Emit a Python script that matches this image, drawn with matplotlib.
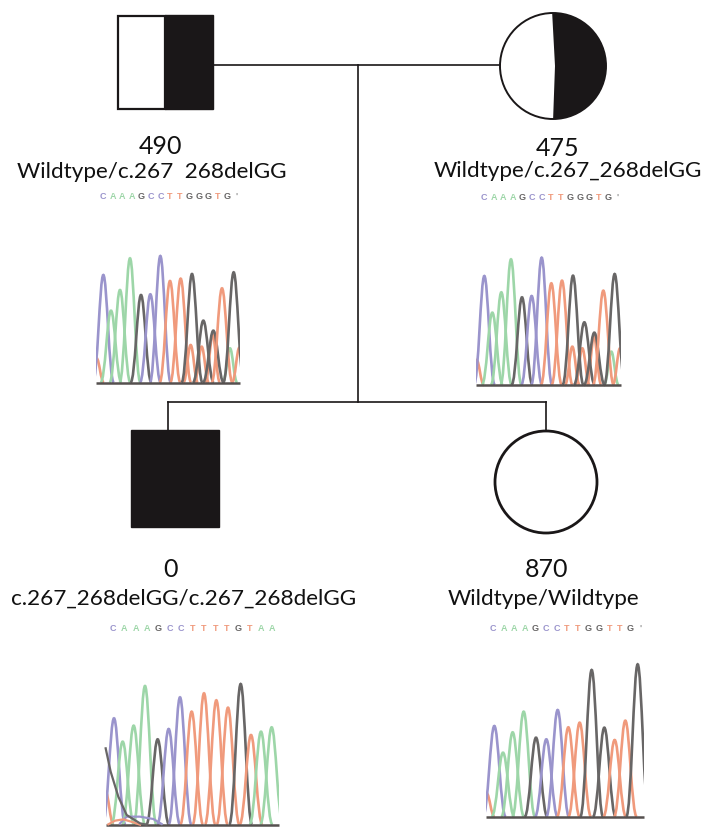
# pedigree with chromatograms, drawn in picture pixels
import matplotlib
matplotlib.use("Agg")
import matplotlib.pyplot as plt
from matplotlib.patches import Rectangle, Circle, PathPatch, Polygon
from matplotlib.path import Path

p1_call = "CAAAGCCTTGGGTG"
p1_x = [70, 93, 120, 150, 183, 211, 241, 270, 302, 336, 370, 400, 426, 461]
p1_top = [285, 392, 330, 235, 345, 343, 228, 303, 296, 282, 422, 452, 325, 277]
p1_call2 = "TTTTAT"
p1_x2 = [50, 332, 365, 398, 450, 478]
p1_top2 = [535, 495, 500, 465, 505, 503]

p2_call = "CAAAGCCTTGGGTG"
p2_x = [73, 97, 124, 153, 186, 215, 245, 274, 306, 339, 373, 403, 430, 464]
p2_top = [288, 398, 337, 238, 352, 348, 233, 310, 302, 287, 427, 458, 332, 282]
p2_call2 = "TTTTAT"
p2_x2 = [50, 337, 367, 402, 454, 480]
p2_top2 = [540, 500, 505, 470, 515, 505]

p3_call = "CAAAGCCTTTTGTAA"
p3_x = [72, 98, 131, 165, 203, 236, 270, 305, 342, 379, 414, 452, 483, 513, 545]
p3_top = [310, 380, 332, 213, 373, 342, 247, 290, 235, 256, 278, 207, 360, 350, 337]
p3_call2 = "T"
p3_x2 = [47]
p3_top2 = [530]
p3_noise_gray = [(47, 400), (62, 470), (85, 545), (110, 600), (150, 625), (170, 629)]
p3_noise_blue = [(90, 625), (110, 605), (150, 605), (190, 612), (215, 627)]
p3_noise_orange = [(55, 628), (75, 617), (100, 613), (130, 622), (150, 629)]

p4_call = "CAAAGCCTTGGTTG"
p4_x = [73, 99, 128, 161, 198, 229, 263, 295, 329, 365, 403, 434, 466, 503]
p4_top = [333, 413, 352, 290, 368, 373, 285, 337, 323, 165, 338, 375, 317, 148]
p4_call2 = "T"
p4_x2 = [50]
p4_top2 = [535]

seq1 = "CAAAGCCTTGGGTG'"
seq2 = "CAAAGCCTTGGGTG'"
seq3 = "CAAAGCCTTTTGTAA"
seq4 = "CAAAGCCTTGGTTG'"

ids = ["490", "475", "0", "870"]
genotypes = ["Wildtype/c.267  268delGG", "Wildtype/c.267_268delGG",
             "c.267_268delGG/c.267_268delGG", "Wildtype/Wildtype"]

kleur = {"C": "#9a94cc", "A": "#9dd6a8", "G": "#686666", "T": "#f09a7c", "'": "#999999"}
ink = "#1a1718"

fig = plt.figure(figsize=(7.14, 8.38), dpi=100)
ax = fig.add_axes([0, 0, 1, 1])
ax.set_xlim(0, 714)
ax.set_ylim(838, 0)
ax.axis("off")


def peak(x, top, base, w, farge, klipp):
    # one trace peak as a bezier hump
    verts = [(x - w, base), (x - 0.55 * w, base), (x - 0.35 * w, top), (x, top),
             (x + 0.35 * w, top), (x + 0.55 * w, base), (x + w, base)]
    codes = [Path.MOVETO] + [Path.CURVE4] * 6
    p = ax.add_patch(PathPatch(Path(verts, codes), fc="none", ec=farge, lw=1.9, zorder=3))
    p.set_clip_path(klipp)


def trace(ox, oy, base, right, call, xs, tops, call2, xs2, tops2, w=10.5):
    # crop coordinates are 3x, ox/oy is the crop corner
    left = ox + 48 / 3
    end = ox + right / 3
    klipp = Rectangle((left, 0), end - left, 838, transform=ax.transData)
    for c, x, t in zip(call2, xs2, tops2):
        peak(ox + x / 3, oy + t / 3, oy + base / 3, w * 0.7, kleur[c], klipp)
    for c, x, t in zip(call, xs, tops):
        peak(ox + x / 3, oy + t / 3, oy + base / 3, w, kleur[c], klipp)
    ax.plot([left, end], [oy + base / 3] * 2, color="#55504f", lw=1.8, zorder=4, solid_capstyle="butt")


def sequence(letters, x0, x1, y):
    step = (x1 - x0) / (len(letters) - 1)
    for i, c in enumerate(letters):
        ax.text(x0 + i * step, y, c, color=kleur[c], fontsize=6.5, family="Liberation Sans",
                fontweight="bold", ha="center", va="center")


# lines between the symbols
ax.plot([213, 499], [65, 65], color=ink, lw=1.2)
ax.plot([358, 358], [65, 402], color=ink, lw=1.2)
ax.plot([168, 546], [402, 402], color=ink, lw=1.2)
ax.plot([168, 168], [402, 430], color=ink, lw=1.2)
ax.plot([546, 546], [402, 431], color=ink, lw=1.2)

# father
ax.add_patch(Rectangle((118, 16), 47, 93, fc="white", ec=ink, lw=1.6))
ax.add_patch(Rectangle((165, 15), 48, 94, fc=ink, ec=ink, lw=1))

# mother, dark half clipped to the circle
ring = Circle((553, 66), 53, fc="white", ec=ink, lw=1.4, zorder=2)
ax.add_patch(ring)
half = Polygon([(552, 10), (610, 10), (610, 122), (553, 122), (555, 66)], fc=ink, ec="none", zorder=2)
ax.add_patch(half)
half.set_clip_path(ring)

# children
ax.add_patch(Rectangle((131, 430), 88, 97, fc=ink, ec=ink, lw=1))
ax.add_patch(Circle((546, 482), 51, fc="white", ec=ink, lw=2))

# labels
lx = [160, 558, 171, 546]
ly = [146, 148, 569, 569]
gx = [152, 568, 184, 543]
gy = [172, 171, 599, 599]
for i in range(4):
    ax.text(lx[i], ly[i], ids[i], fontsize=18, family="Lato", color="#111111", ha="center", va="center")
    ax.text(gx[i], gy[i], genotypes[i], fontsize=16.2, family="Lato", color="#111111", ha="center", va="center")

sequence(seq1, 103, 237, 196)
sequence(seq2, 484, 618, 197)
sequence(seq3, 113, 272, 628)
sequence(seq4, 493, 641, 628)

trace(80, 180, 608, 480, p1_call, p1_x, p1_top, p1_call2, p1_x2, p1_top2)
trace(460, 180, 615, 483, p2_call, p2_x, p2_top, p2_call2, p2_x2, p2_top2)
trace(90, 615, 629, 566, p3_call, p3_x, p3_top, p3_call2, p3_x2, p3_top2, w=11.5)
trace(470, 615, 606, 522, p4_call, p4_x, p4_top, p4_call2, p4_x2, p4_top2, w=11.5)

for pts, c in [(p3_noise_blue, "C"), (p3_noise_orange, "T"), (p3_noise_gray, "G")]:
    ax.plot([90 + p[0] / 3 for p in pts], [615 + p[1] / 3 for p in pts], color=kleur[c], lw=1.6, zorder=5)

fig.savefig("out.png", dpi=100)
